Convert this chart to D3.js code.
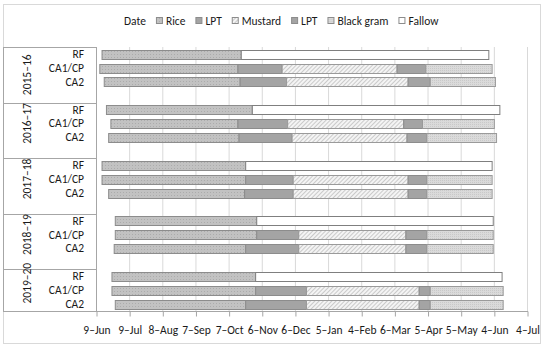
<!DOCTYPE html>
<html>
<head>
<meta charset="utf-8">
<script src="https://cdn.jsdelivr.net/npm/d3@7"></script>
<style>
  body { margin: 0; background: #fff; }
  text { font-family: Carlito, Lato, "Liberation Sans", sans-serif; fill: #1a1a1a; }
</style>
</head>
<body>
<svg id="chart"></svg>
<script>
// data (days after 9 Jun)
const years = ["2015–16", "2016–17", "2017–18", "2018–19", "2019–20"];
const systems = ["RF", "CA1/CP", "CA2"];
const tickLabels = ["9–Jun", "9–Jul", "8–Aug", "7–Sep", "7–Oct", "6–Nov", "6–Dec",
  "5–Jan", "4–Feb", "6–Mar", "5–Apr", "5–May", "4–Jun", "4–Jul"];
const seriesNames = ["Date", "Rice", "LPT", "Mustard", "LPT", "Black gram", "Fallow"];

// one value per row: year by year, RF / CA1/CP / CA2
const dateStart = [5, 3, 7, 9, 13, 11, 5, 5, 11, 17, 17, 16, 14, 14, 17];
const rice = [126, 125, 123, 132, 115, 118, 130, 130, 123, 128, 128, 119, 130, 130, 118];
const lpt1 = [0, 40, 42, 0, 45, 48, 0, 43, 44, 0, 38, 48, 0, 46, 55];
const mustard = [0, 104, 110, 0, 105, 104, 0, 104, 104, 0, 97, 97, 0, 102, 102];
const lpt2 = [0, 26, 20, 0, 17, 18, 0, 17, 17, 0, 19, 19, 0, 10, 10];
const blackgram = [0, 60, 59, 0, 65, 63, 0, 59, 59, 0, 60, 60, 0, 66, 66];
const fallow = [224, 0, 0, 224, 0, 0, 223, 0, 0, 214, 0, 0, 223, 0, 0];

const W = 550, H = 350;
const fs = 11.5;
const svg = d3.select("#chart").attr("width", W).attr("height", H);

// patterns
const defs = svg.append("defs");
const pRice = defs.append("pattern").attr("id", "pRice").attr("patternUnits", "userSpaceOnUse")
  .attr("width", 3).attr("height", 3);
pRice.append("rect").attr("width", 3).attr("height", 3).attr("fill", "#c2c2c2");
pRice.append("rect").attr("width", 1).attr("height", 1).attr("fill", "#acacac");

const pMust = defs.append("pattern").attr("id", "pMust").attr("patternUnits", "userSpaceOnUse")
  .attr("width", 3).attr("height", 3).attr("patternTransform", "rotate(45)");
pMust.append("rect").attr("width", 3).attr("height", 3).attr("fill", "#f4f4f4");
pMust.append("line").attr("x1", 0).attr("y1", 0).attr("x2", 0).attr("y2", 3)
  .attr("stroke", "#a0a0a0").attr("stroke-width", 1);

const pBg = defs.append("pattern").attr("id", "pBg").attr("patternUnits", "userSpaceOnUse")
  .attr("width", 2).attr("height", 2);
pBg.append("rect").attr("width", 2).attr("height", 2).attr("fill", "#dadada");
pBg.append("rect").attr("width", 1).attr("height", 1).attr("fill", "#c9c9c9");

const keys = ["date", "rice", "lpt1", "mustard", "lpt2", "blackgram", "fallow"];
const fills = {
  date: "none", rice: "url(#pRice)", lpt1: "#a4a4a4", mustard: "url(#pMust)",
  lpt2: "#a4a4a4", blackgram: "url(#pBg)", fallow: "#ffffff"
};
const strokes = {
  date: "none", rice: "#8c8c8c", lpt1: "#8c8c8c", mustard: "#9a9a9a",
  lpt2: "#8c8c8c", blackgram: "#9a9a9a", fallow: "#7f7f7f"
};

// rows with a blank slot between year groups
const rows = [];
years.forEach((yr, g) => {
  systems.forEach((s, j) => {
    const i = g * 3 + j;
    rows.push({
      year: yr, system: s, slot: g * 4 + j,
      date: dateStart[i], rice: rice[i], lpt1: lpt1[i], mustard: mustard[i],
      lpt2: lpt2[i], blackgram: blackgram[i], fallow: fallow[i]
    });
  });
});
const nSlots = years.length * 4 - 1;

const plot = { left: 96, right: 527, top: 47, bottom: 311 };
const x = d3.scaleLinear().domain([0, 390]).range([plot.left, plot.right]);
const y = d3.scaleBand().domain(d3.range(nSlots)).range([plot.top, plot.bottom])
  .paddingInner(0.38).paddingOuter(0.19);
const step = y.step();

// outer chart border
svg.append("rect").attr("x", 3.5).attr("y", 4.5).attr("width", 537).attr("height", 339)
  .attr("fill", "none").attr("stroke", "#d9d9d9");

// gridlines
const tickVals = d3.range(0, 391, 30);
svg.append("g").selectAll("line").data(tickVals.slice(1)).join("line")
  .attr("x1", d => x(d) + 0.5).attr("x2", d => x(d) + 0.5)
  .attr("y1", plot.top).attr("y2", plot.bottom)
  .attr("stroke", "#d9d9d9");

// x axis
const xAxis = d3.axisBottom(x).tickValues(tickVals)
  .tickFormat((d, i) => tickLabels[i]).tickSize(5).tickPadding(9);
const gx = svg.append("g").attr("transform", `translate(0.5,${plot.bottom + 0.5})`).call(xAxis);
gx.select(".domain").remove();
gx.selectAll(".tick line").attr("stroke", "#a6a6a6");
gx.selectAll("text").attr("font-size", fs).style("fill", "#1a1a1a");
svg.append("line").attr("x1", 3).attr("x2", plot.right + 1)
  .attr("y1", plot.bottom + 0.5).attr("y2", plot.bottom + 0.5).attr("stroke", "#a6a6a6");

// bars
const stack = d3.stack().keys(keys)(rows);
svg.append("g").selectAll("g").data(stack).join("g")
  .attr("fill", s => fills[s.key]).attr("stroke", s => strokes[s.key])
  .selectAll("rect").data(s => s.filter(d => d[1] > d[0])).join("rect")
  .attr("x", d => x(d[0]) + 0.5)
  .attr("width", d => x(d[1]) - x(d[0]))
  .attr("y", d => Math.round(y(d.data.slot)) + 0.5)
  .attr("height", Math.round(y.bandwidth()))
  .attr("stroke-width", 1);

// category axis (multi-level)
const axisCol = "#a6a6a6";
svg.append("line").attr("x1", plot.left + 0.5).attr("x2", plot.left + 0.5)
  .attr("y1", plot.top).attr("y2", plot.bottom).attr("stroke", axisCol);
svg.append("line").attr("x1", 3.5).attr("x2", 3.5)
  .attr("y1", plot.top).attr("y2", plot.bottom).attr("stroke", axisCol);

const groupBounds = years.map((yr, g) => {
  const top = g === 0 ? plot.top : y(g * 4) - step * y.paddingInner() / 2 - step;
  const bot = g === years.length - 1 ? plot.bottom : y(g * 4 + 3) + y.bandwidth() + step * y.paddingInner() / 2;
  return { yr, top, bot };
});
// dividers between groups
svg.append("g").selectAll("line").data(groupBounds.slice(0, -1)).join("line")
  .attr("x1", 3).attr("x2", plot.left)
  .attr("y1", d => Math.round(d.bot) + 0.5).attr("y2", d => Math.round(d.bot) + 0.5)
  .attr("stroke", axisCol);
svg.append("line").attr("x1", 3).attr("x2", plot.left)
  .attr("y1", plot.top + 0.5).attr("y2", plot.top + 0.5).attr("stroke", axisCol);

// system labels
svg.append("g").selectAll("text").data(rows).join("text")
  .attr("x", 84).attr("y", d => y(d.slot) + y.bandwidth() / 2)
  .attr("dy", "0.35em").attr("text-anchor", "end").attr("font-size", fs)
  .text(d => d.system);

// year labels, rotated
const yl = svg.append("g").selectAll("text").data(groupBounds).join("text")
  .attr("font-size", fs).attr("text-anchor", "middle")
  .attr("transform", d => `translate(27,${(d.top + d.bot) / 2}) rotate(-90)`);
yl.each(function (d) {
  const t = d3.select(this);
  if (d.bot - d.top < 50) {
    const parts = d.yr.split("–");
    t.append("tspan").attr("x", 0).attr("dy", "-0.35em").text(parts[0] + "–");
    t.append("tspan").attr("x", 0).attr("dy", "1.3em").text(parts[1]);
  } else {
    t.append("tspan").attr("x", 0).attr("dy", "0.35em").text(d.yr);
  }
});

// legend
const legendFills = [null, fills.rice, fills.lpt1, fills.mustard, fills.lpt2, fills.blackgram, fills.fallow];
const lg = svg.append("g");
let lx = 0;
seriesNames.forEach((name, i) => {
  const item = lg.append("g").attr("transform", `translate(${lx},0)`);
  let tx = 0;
  if (legendFills[i]) {
    item.append("rect").attr("x", 0.5).attr("y", -3.5).attr("width", 6).attr("height", 6)
      .attr("fill", legendFills[i]).attr("stroke", "#8c8c8c");
    tx = 10;
  }
  const t = item.append("text").attr("x", tx).attr("y", 0).attr("dy", "0.35em")
    .attr("font-size", fs).text(name);
  lx += tx + t.node().getComputedTextLength() + 10;
});
lg.attr("transform", `translate(${Math.round(281 - (lx - 10) / 2)},21)`);
</script>
</body>
</html>
